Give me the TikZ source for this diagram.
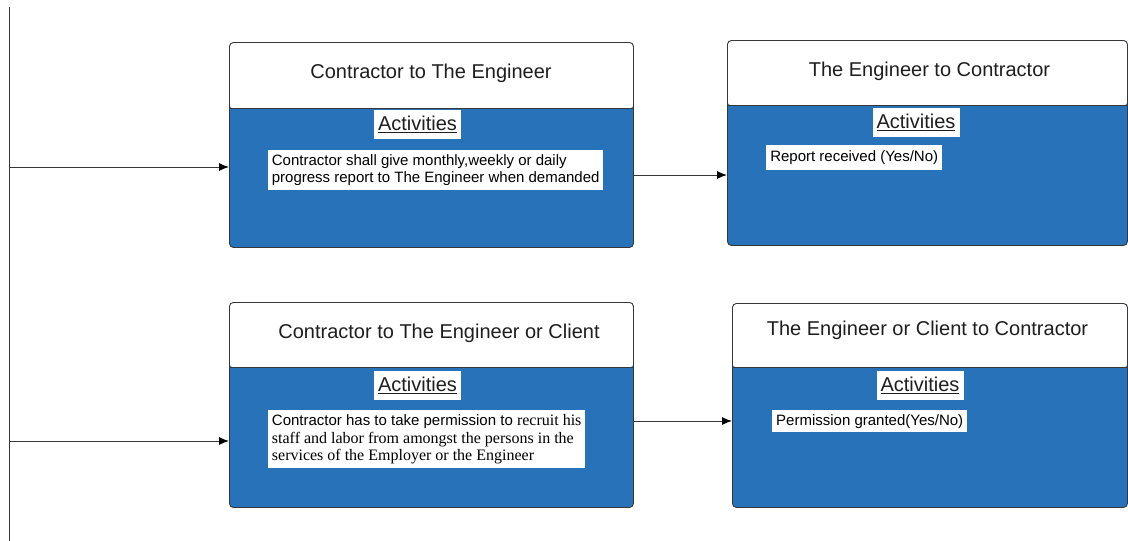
\documentclass[tikz,border=0pt]{standalone}
\usepackage{fontspec}
\setmainfont{Liberation Sans}
\newfontfamily\timesfont{Liberation Serif}
\usetikzlibrary{arrows.meta}

\definecolor{panelblue}{RGB}{40,114,185}
\definecolor{rulegray}{RGB}{55,55,55}
\definecolor{inkgray}{RGB}{30,30,30}

\tikzset{
  % panel: blue body with a white header band of height #1
  panel/.style={draw=rulegray, line width=0.9pt, rounded corners=4pt,
    fill=panelblue, anchor=north west, inner sep=0pt,
    path picture={
      \fill[white] (path picture bounding box.north west) rectangle
        ([yshift=-#1]path picture bounding box.north east);
      \draw[rulegray, line width=1pt]
        ([yshift=-#1]path picture bounding box.north west) --
        ([yshift=-#1]path picture bounding box.north east);
    }},
  title/.style={anchor=base, inner sep=0pt, text=inkgray,
    font=\fontsize{20}{24}\selectfont},
  actlabel/.style={fill=white, inner sep=0pt, minimum width=87pt,
    minimum height=29pt, text=inkgray, font=\fontsize{20}{24}\selectfont},
  note/.style={fill=white, anchor=north west, inner xsep=2pt, inner ysep=0pt,
    align=left, text=black, font=\fontsize{15}{16.5}\selectfont},
  link/.style={draw=rulegray, line width=1pt,
    -{Latex[length=10pt,width=8pt,color=black]}},
}

\begin{document}
\begin{tikzpicture}[x=1pt,y=-1pt]
\useasboundingbox (0,0) rectangle (1128,541);

% panels
\node[panel=66pt, minimum width=404pt, minimum height=205pt] (b1) at (229,42) {};
\node[panel=65pt, minimum width=400pt, minimum height=205pt] (b2) at (727,40) {};
\node[panel=65pt, minimum width=404pt, minimum height=205pt] (b3) at (229,302) {};
\node[panel=64pt, minimum width=395pt, minimum height=204pt] (b4) at (732,303) {};

% headings
\node[title] (t1) at (431,78) {Contractor to The Engineer};
\node[title] (t2) at (929.5,76.5) {The Engineer to Contractor};
\node[title] (t3) at (439,338) {Contractor to The Engineer or Client};
\node[title] (t4) at (927.5,335) {The Engineer or Client to Contractor};

% activity labels
\node[actlabel] (a1) at (417.5,124.5) {\underline{Activities}};
\node[actlabel] (a2) at (916,122.5) {\underline{Activities}};
\node[actlabel] (a3) at (417.5,385) {\underline{Activities}};
\node[actlabel] (a4) at (920,385.5) {\underline{Activities}};

% activity descriptions
\node[note, minimum width=335pt, minimum height=40pt] (n1) at (268,150)
  {Contractor shall give monthly,weekly or daily\\progress report to The Engineer when demanded};
\node[note, minimum width=176pt, minimum height=25pt] (n2) at (766,145)
  {Report received (Yes/No)};
\node[note, minimum width=317pt, minimum height=58pt,
      font=\fontsize{15}{17.5}\selectfont] (n3) at (268,410)
  {Contractor has to take permission to {\timesfont\fontsize{16}{17.5}\selectfont recruit his}\\
   {\timesfont\fontsize{16}{17.5}\selectfont staff and labor from amongst the persons in the}\\
   {\timesfont\fontsize{16}{17.5}\selectfont services of the Employer or the Engineer}};
\node[note, minimum width=195pt, minimum height=22pt] (n4) at (772,410)
  {Permission granted(Yes/No)};

% left bus line and its branches
\coordinate (bustop) at (9,7);
\coordinate (busbot) at (9,541);
\draw[rulegray, line width=1pt] (bustop) -- (busbot);
\coordinate (l1) at (9,167);
\coordinate (l2) at (9,441);
\draw[link] (l1) -- (l1 -| b1.west);
\draw[link] (l2) -- (l2 -| b3.west);

% links between the panels
\coordinate (m1) at (680,175);
\coordinate (m2) at (680,421);
\draw[link] (m1 -| b1.east) -- (m1 -| b2.west);
\draw[link] (m2 -| b3.east) -- (m2 -| b4.west);
\end{tikzpicture}
\end{document}
